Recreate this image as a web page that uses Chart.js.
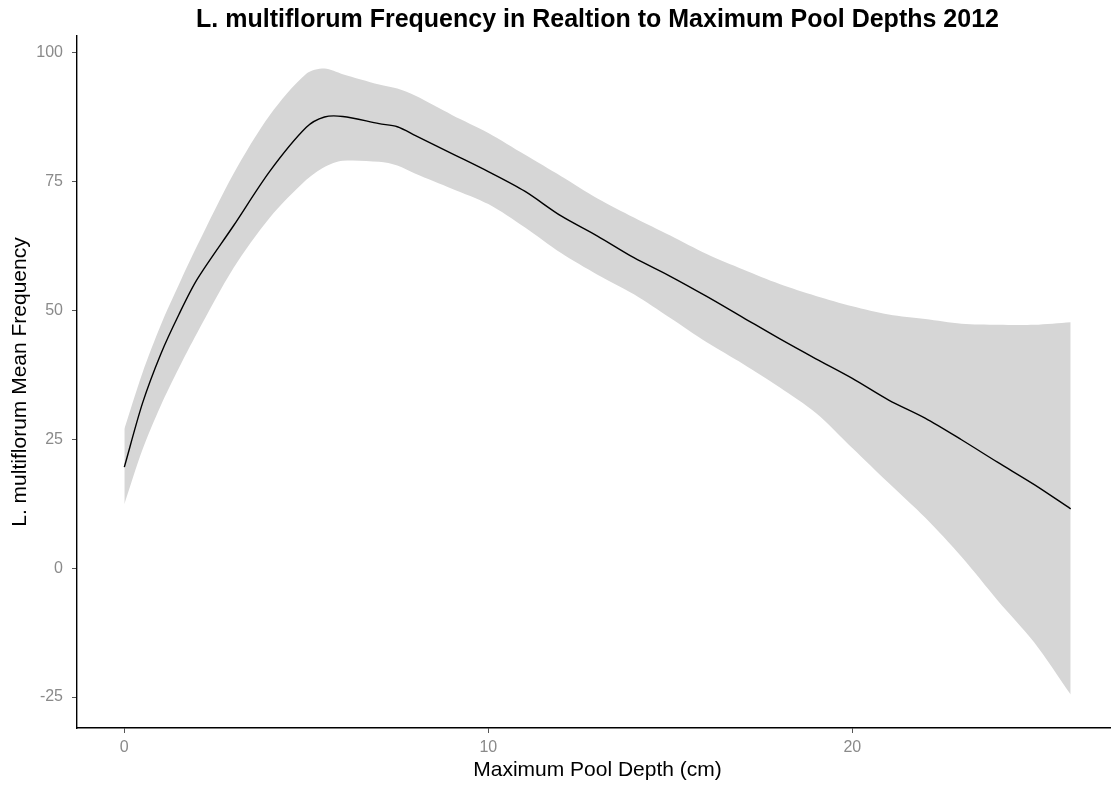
<!DOCTYPE html>
<html>
<head>
<meta charset="utf-8">
<script src="https://cdn.jsdelivr.net/npm/chart.js@4.4.1/dist/chart.umd.min.js"></script>
<style>
  html, body { margin: 0; padding: 0; background: #fff; overflow: hidden; }
  #wrap { width: 1196px; height: 787px; }
</style>
</head>
<body>
<div id="wrap"><canvas id="c" width="1196" height="787"></canvas></div>
<script>
// values
const depth = [0,0.5,1,1.5,2,3,4,5,5.5,6,7,7.5,8,9,10,11,12,13,14,15,16,17,18,19,20,21,22,23,24,25,26];
const meanFreq = [19.6,32.0,41.5,49.2,56.0,66.4,77.0,85.5,87.5,87.6,86.2,85.6,83.9,80.4,76.9,73.1,68.3,64.4,60.2,56.6,52.7,48.6,44.5,40.6,36.8,32.6,29.1,24.9,20.5,16.2,11.5];
const upperCI = [27.0,37.9,47.1,55.0,62.5,76.5,87.9,95.9,96.9,95.8,93.8,93.0,91.6,87.9,84.4,80.2,76.0,71.7,68.0,64.5,60.9,57.9,55.1,52.8,50.8,49.2,48.3,47.4,47.2,47.2,47.7];
const lowerCI = [12.4,23.0,31.5,38.8,45.6,58.2,68.0,75.3,77.8,79.0,78.8,78.1,76.5,73.6,70.6,66.1,61.1,56.9,53.1,48.5,43.8,39.6,35.1,30.1,23.3,16.5,9.8,2.2,-6.3,-14.4,-24.5];
const xTicks = [0, 10, 20];
const yTicks = [-25, 0, 25, 50, 75, 100];

const FONT = '"Liberation Sans", Arial, sans-serif';
const pts = ys => depth.map((x, i) => ({ x, y: ys[i] }));

// title centred over the panel, as ggplot does
const panelTitle = {
  id: 'panelTitle',
  afterDraw(chart){
    const { ctx, chartArea } = chart;
    ctx.save();
    ctx.font = 'bold 25px ' + FONT;
    ctx.fillStyle = '#000';
    ctx.textAlign = 'center';
    ctx.textBaseline = 'middle';
    ctx.fillText('L. multiflorum Frequency in Realtion to Maximum Pool Depths 2012', (chartArea.left + chartArea.right) / 2, 20);
    ctx.restore();
  }
};

new Chart(document.getElementById('c'), {
  type: 'line',
  data: {
    datasets: [
      { data: pts(meanFreq), borderColor: '#000', borderWidth: 1.4, pointRadius: 0, fill: false, tension: 0.3 },
      { data: pts(lowerCI), borderWidth: 0, pointRadius: 0, fill: false, tension: 0.3 },
      { data: pts(upperCI), borderWidth: 0, pointRadius: 0, fill: '-1', backgroundColor: 'rgb(214,214,214)', tension: 0.3 }
    ]
  },
  options: {
    responsive: false,
    animation: false,
    layout: { padding: { top: 36, right: 78, left: 0, bottom: 0 } },
    plugins: {
      legend: { display: false },
      tooltip: { enabled: false },
      filler: { drawTime: 'beforeDatasetsDraw' }
    },
    scales: {
      x: {
        type: 'linear', min: -1.3, max: 27.3,
        afterBuildTicks: s => { s.ticks = xTicks.map(v => ({ value: v })); },
        afterFit: s => { s.height = 59; },
        grid: { drawOnChartArea: false, drawTicks: true, tickLength: 5, tickColor: '#555' },
        border: { display: true, color: '#000', width: 1.4 },
        ticks: { color: '#8a8a8a', font: { family: FONT, size: 16 }, padding: 5 },
        title: { display: true, text: 'Maximum Pool Depth (cm)', color: '#000', font: { family: FONT, size: 21 }, padding: { top: 0 } }
      },
      y: {
        min: -31, max: 103.2,
        afterBuildTicks: s => { s.ticks = yTicks.map(v => ({ value: v })); },
        afterFit: s => { s.width = 77; },
        grid: { drawOnChartArea: false, drawTicks: true, tickLength: 5, tickColor: '#555' },
        border: { display: true, color: '#000', width: 1.4 },
        ticks: { color: '#8a8a8a', font: { family: FONT, size: 16 }, padding: 9 },
        title: { display: true, text: 'L. multiflorum Mean Frequency', color: '#000', font: { family: FONT, size: 21 }, padding: { top: 8, bottom: 0 } }
      }
    }
  },
  plugins: [panelTitle]
});
</script>
</body>
</html>
